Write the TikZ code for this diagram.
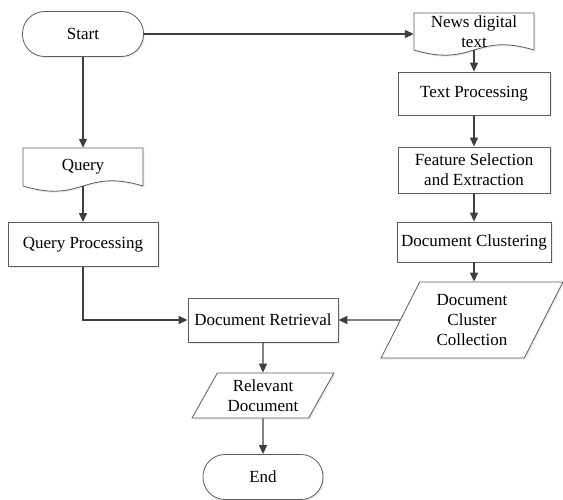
\documentclass[tikz,border=0pt]{standalone}
\usepackage{fontspec}
\setmainfont{Liberation Serif}
\usetikzlibrary{shapes.geometric}
\usetikzlibrary{arrows.meta}
\usetikzlibrary{shadows}
\definecolor{edgegray}{HTML}{3F3F3F}
\definecolor{boxgray}{HTML}{5C5C5C}
\tikzset{
  flowtext/.style={font=\fontsize{17}{20}\selectfont, align=center, inner sep=2pt},
  boxshadow/.style={drop shadow={shadow xshift=1.5pt, shadow yshift=-1.5pt, fill=black!15}},
  termbox/.style={flowtext, draw=boxgray, line width=0.8pt, fill=white, rounded corners=22pt, minimum width=121pt, minimum height=45pt, boxshadow},
  procbox/.style={flowtext, draw=boxgray, line width=0.8pt, fill=white, minimum height=44pt, boxshadow},
  databox/.style={flowtext, trapezium, trapezium stretches=true, draw=boxgray, line width=0.8pt, fill=white, boxshadow},
  docbox/.style={flowtext, minimum width=120pt},
  docline/.style={draw=boxgray, line width=0.8pt, fill=white, boxshadow},
  arr/.style={draw=edgegray, line width=1.3pt, -{Triangle[length=9pt,width=8pt]}}
}
\newcommand{\docshape}[5]{
  \filldraw[docline] ( #2-60 , #3-#4/2 ) -- ( #2+60 , #3-#4/2 ) -- ( #2+60 , #3+#4/2 ) .. controls +(-60,-18) and +(60,18) .. ( #2-60 , #3+#4/2 ) -- cycle;
  \node[docbox, minimum height=#4pt] (#1) at ( #2 , #3 ) {#5};
}

\begin{document}
\begin{tikzpicture}[x=1pt,y=-1pt]
  \useasboundingbox (0,0) rectangle (563,500);

  % col 1
  \node[termbox] (start) at (83,34) {Start};
  \docshape{query}{83}{167}{38}{Query}
  \node[procbox, minimum width=150pt] (qproc) at (83,244.5) {Query Processing};

  % col 3
  \docshape{news}{474}{31.5}{37}{News digital\\text}
  \node[procbox, minimum width=152pt, minimum height=43pt] (tproc) at (474,93.5) {Text Processing};
  \node[procbox, minimum width=152pt, minimum height=46pt] (feat) at (474,170) {Feature Selection\\and Extraction};
  \node[procbox, minimum width=154pt, minimum height=40pt] (clust) at (474,242) {Document Clustering};
  \node[databox, trapezium left angle=63.4, trapezium right angle=116.6, minimum width=182pt, minimum height=76pt] (coll) at (472,320) {Document\\Cluster\\Collection};

  % col 2
  \node[procbox, minimum width=150pt] (retr) at (263,320) {Document Retrieval};
  \node[databox, trapezium left angle=60, trapezium right angle=120, minimum width=142pt, minimum height=45pt] (relev) at (263,395.5) {Relevant\\Document};
  \node[termbox, minimum width=120pt] (finish) at (263,477) {End};

  % arrows
  \draw[arr] (start.south) -- (query.north);
  \draw[arr] (start.east) -- (start.east -| news.west);
  \draw[arr] (query.south) -- (qproc.north);
  \draw[arr] (qproc.south) |- (retr.west);
  \draw[arr] (news.south) -- (tproc.north);
  \draw[arr] (tproc.south) -- (feat.north);
  \draw[arr] (feat.south) -- (clust.north);
  \draw[arr] (clust.south) -- (clust.south |- coll.north);
  \draw[arr] (coll) -- (retr);
  \draw[arr] (retr.south) -- (relev.north);
  \draw[arr] (relev.south) -- (finish.north);
\end{tikzpicture}
\end{document}
